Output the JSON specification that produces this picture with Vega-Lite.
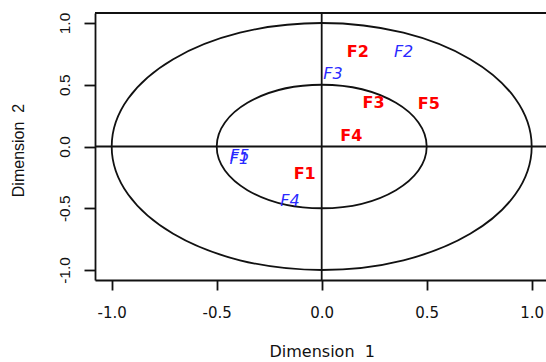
{
  "$schema": "https://vega.github.io/schema/vega-lite/v6.json",
  "width": 451,
  "height": 267,
  "autosize": {"type": "none"},
  "padding": {"left": 95, "top": 13, "right": 0, "bottom": 82},
  "background": "white",
  "datasets": {
    "labels": [
      {"lab": "F1", "set": "red", "x": -0.081, "y": -0.221},
      {"lab": "F2", "set": "red", "x": 0.172, "y": 0.769},
      {"lab": "F3", "set": "red", "x": 0.247, "y": 0.356},
      {"lab": "F4", "set": "red", "x": 0.141, "y": 0.087},
      {"lab": "F5", "set": "red", "x": 0.51, "y": 0.346},
      {"lab": "F1", "set": "blue", "x": -0.393, "y": -0.102},
      {"lab": "F2", "set": "blue", "x": 0.39, "y": 0.764},
      {"lab": "F3", "set": "blue", "x": 0.054, "y": 0.586},
      {"lab": "F4", "set": "blue", "x": -0.151, "y": -0.445},
      {"lab": "F5", "set": "blue", "x": -0.39, "y": -0.075}
    ],
    "circles": [
      {"x": 0, "y": 0, "r": 1},
      {"x": 0, "y": 0, "r": 0.5}
    ]
  },
  "config": {
    "view": {"stroke": null},
    "font": "DejaVu Sans",
    "axis": {
      "grid": false,
      "domainColor": "#111",
      "domainWidth": 1.8,
      "tickColor": "#111",
      "tickWidth": 1.8,
      "tickSize": 10,
      "labelColor": "#111",
      "titleColor": "#111",
      "titleFontWeight": "normal",
      "labelFlush": false,
      "labelOverlap": false
    },
    "axisX": {
      "labelFont": "DejaVu Sans",
      "labelFontSize": 15,
      "labelBaseline": "top",
      "labelAlign": "center",
      "labelPadding": 15,
      "titleFont": "DejaVu Sans",
      "titleFontSize": 16,
      "titleX": 226.7,
      "titleY": 71,
      "titleBaseline": "middle",
      "titleAlign": "center"
    },
    "axisY": {
      "tickSize": 11,
      "labelFont": "Liberation Sans",
      "labelFontSize": 15.5,
      "labelAngle": -90,
      "labelAlign": "center",
      "labelBaseline": "alphabetic",
      "labelPadding": 15,
      "titleFont": "Liberation Sans",
      "titleFontSize": 16,
      "titleAngle": -90,
      "titleX": -77,
      "titleY": 137,
      "titleBaseline": "middle",
      "titleAlign": "center"
    }
  },
  "layer": [
    {
      "data": {"values": [{"x": 0}]},
      "mark": {"type": "rule", "color": "#111", "strokeWidth": 1.8},
      "encoding": {
        "x": {"field": "x", "type": "quantitative", "scale": {"domain": [-1.0795, 1.0681], "nice": false, "zero": false}, "axis": {"title": "Dimension\u00a0 1", "values": [-1, -0.5, 0, 0.5, 1], "labelExpr": "replace(format(datum.value, '.1f'), '\u2212', '-')"}}
      }
    },
    {
      "data": {"values": [{"y": 0}, {"y": 1.081}]},
      "mark": {"type": "rule", "color": "#111", "strokeWidth": 1.8},
      "encoding": {
        "y": {"field": "y", "type": "quantitative", "scale": {"domain": [-1.081, 1.081], "nice": false, "zero": false}, "axis": {"title": "Dimension\u00a0 2", "values": [-1, -0.5, 0, 0.5, 1], "labelExpr": "replace(format(datum.value, '.1f'), '\u2212', '-')"}}
      }
    },
    {
      "data": {"name": "circles"},
      "mark": {
        "type": "point",
        "shape": "M 1 0 C 1 0.3248 0.5523 0.5881 0 0.5881 C -0.5523 0.5881 -1 0.3248 -1 0 C -1 -0.3248 -0.5523 -0.5881 0 -0.5881 C 0.5523 -0.5881 1 -0.3248 1 0 Z",
        "filled": false,
        "stroke": "#111",
        "strokeWidth": 1.8,
        "opacity": 1
      },
      "encoding": {
        "x": {"field": "x", "type": "quantitative", "scale": {"domain": [-1.0795, 1.0681], "nice": false, "zero": false}},
        "y": {"field": "y", "type": "quantitative", "scale": {"domain": [-1.081, 1.081], "nice": false, "zero": false}},
        "size": {"field": "r", "type": "quantitative", "scale": {"type": "pow", "exponent": 2, "domain": [0, 1], "range": [0, 176400]}, "legend": null}
      }
    },
    {
      "data": {"name": "labels"},
      "transform": [{"filter": "datum.set === 'red'"}],
      "mark": {"type": "text", "font": "DejaVu Sans", "fontWeight": "bold", "fontSize": 16, "color": "#ff0000", "align": "center", "baseline": "middle"},
      "encoding": {
        "x": {"field": "x", "type": "quantitative", "scale": {"domain": [-1.0795, 1.0681], "nice": false, "zero": false}},
        "y": {"field": "y", "type": "quantitative", "scale": {"domain": [-1.081, 1.081], "nice": false, "zero": false}},
        "text": {"field": "lab"}
      }
    },
    {
      "data": {"name": "labels"},
      "transform": [{"filter": "datum.set === 'blue'"}],
      "mark": {"type": "text", "font": "DejaVu Sans", "fontStyle": "italic", "fontSize": 16, "color": "#2a2aff", "align": "center", "baseline": "middle"},
      "encoding": {
        "x": {"field": "x", "type": "quantitative", "scale": {"domain": [-1.0795, 1.0681], "nice": false, "zero": false}},
        "y": {"field": "y", "type": "quantitative", "scale": {"domain": [-1.081, 1.081], "nice": false, "zero": false}},
        "text": {"field": "lab"}
      }
    }
  ]
}
